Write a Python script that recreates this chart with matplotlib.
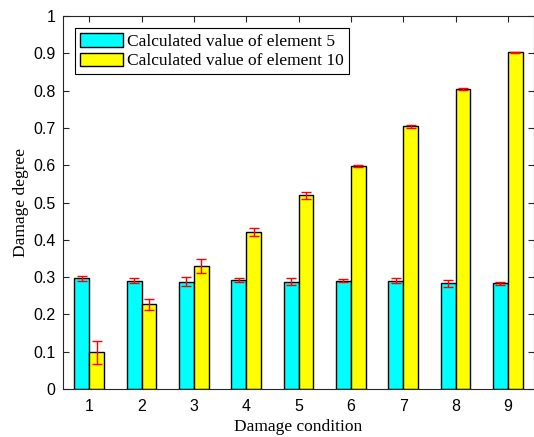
import numpy as np
import matplotlib
matplotlib.use("Agg")
import matplotlib.pyplot as plt

# data
conditions = [1, 2, 3, 4, 5, 6, 7, 8, 9]
elem5 = [0.297, 0.290, 0.287, 0.293, 0.288, 0.290, 0.290, 0.283, 0.284]
elem5_err = [0.007, 0.007, 0.012, 0.005, 0.010, 0.004, 0.007, 0.010, 0.004]
elem10 = [0.098, 0.227, 0.330, 0.421, 0.519, 0.598, 0.705, 0.805, 0.903]
elem10_err = [0.030, 0.015, 0.018, 0.012, 0.010, 0.003, 0.004, 0.003, 0.001]
labels = ["Calculated value of element 5", "Calculated value of element 10"]

serif = ["Liberation Serif", "DejaVu Serif"]
sans = ["Liberation Sans", "DejaVu Sans"]

fig = plt.figure(figsize=(5.34, 4.37), dpi=100)
ax = fig.add_axes([0.118, 0.110, 0.882, 0.853])

x = np.array(conditions, dtype=float)
w = 0.286
ax.bar(x - w / 2, elem5, w, color="#00ffff", edgecolor="black", linewidth=1.0,
       label=labels[0], zorder=2)
ax.bar(x + w / 2, elem10, w, color="#ffff00", edgecolor="black", linewidth=1.0,
       label=labels[1], zorder=2)
ax.errorbar(x - w / 2, elem5, yerr=elem5_err, fmt="none", ecolor="red",
            elinewidth=1.0, capsize=3.3, capthick=1.0, zorder=3)
ax.errorbar(x + w / 2, elem10, yerr=elem10_err, fmt="none", ecolor="red",
            elinewidth=1.0, capsize=3.3, capthick=1.0, zorder=3)

ax.set_xlim(0.5, 9.5)
ax.set_ylim(0, 1)
ax.set_xticks(conditions)
ax.set_yticks(np.arange(0, 1.01, 0.1))
ax.set_yticklabels(["0", "0.1", "0.2", "0.3", "0.4", "0.5", "0.6", "0.7",
                    "0.8", "0.9", "1"])
ax.tick_params(direction="in", top=True, right=True, length=4, width=0.8,
               colors="#262626", labelcolor="black")
ax.tick_params(axis="x", pad=7)
ax.tick_params(axis="y", pad=5.5)
for lab in ax.get_xticklabels() + ax.get_yticklabels():
    lab.set_family(sans)
    lab.set_fontsize(11.5)
for sp in ax.spines.values():
    sp.set_color("#262626")
    sp.set_linewidth(0.8)

ax.set_xlabel("Damage condition", family=serif, fontsize=12.5, labelpad=4)
ax.set_ylabel("Damage degree", family=serif, fontsize=12.5, labelpad=3)

leg = ax.legend(loc="upper left", bbox_to_anchor=(0.025, 0.968),
                prop={"family": serif, "size": 12.5}, frameon=True,
                fancybox=False, edgecolor="black", framealpha=1,
                handlelength=2.5, handleheight=0.8, handletextpad=0.2,
                borderpad=0.3, labelspacing=0.15, borderaxespad=0)
leg.get_frame().set_linewidth(0.8)

fig.savefig("out.png", dpi=100)
